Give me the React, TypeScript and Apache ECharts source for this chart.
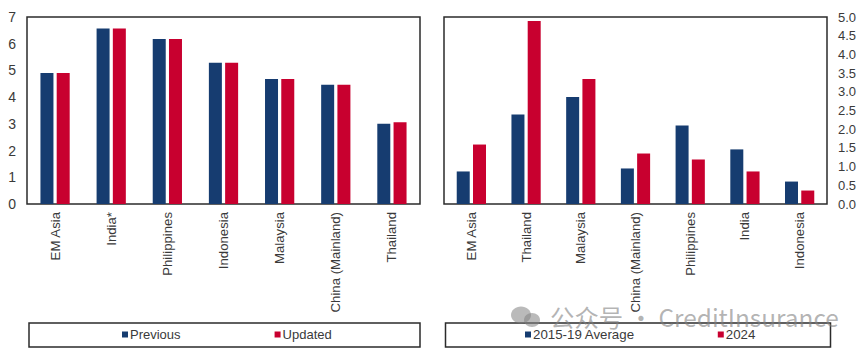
import React, { useEffect, useRef } from "react";
import * as echarts from "echarts";

const leftCategories = ["EM Asia", "India*", "Philippines", "Indonesia", "Malaysia", "China (Mainland)", "Thailand"];
const previous = [4.9, 6.57, 6.18, 5.29, 4.68, 4.46, 3.0];
const updated = [4.9, 6.57, 6.18, 5.29, 4.68, 4.46, 3.06];

const rightCategories = ["EM Asia", "Thailand", "Malaysia", "China (Mainland)", "Philippines", "India", "Indonesia"];
const average = [0.87, 2.39, 2.86, 0.95, 2.1, 1.46, 0.6];
const y2024 = [1.59, 4.89, 3.34, 1.35, 1.19, 0.87, 0.36];

const NAVY = "#163c70";
const RED = "#c8002f";
const INK = "#3a3a3a";
const FONT = "'Liberation Sans', Arial, sans-serif";

const catAxis = (data: string[], gridIndex: number) => ({
  type: "category" as const,
  gridIndex,
  data,
  axisTick: { show: false },
  axisLine: { show: false },
  axisLabel: {
    rotate: 90,
    interval: 0,
    margin: 8,
    color: INK,
    fontSize: 13.2,
    fontFamily: FONT,
  },
});

const bar = (name: string, data: number[], color: string, i: number) => ({
  type: "bar" as const,
  name,
  data,
  xAxisIndex: i,
  yAxisIndex: i,
  barWidth: 13,
  barGap: "25%",
  itemStyle: { color },
});

export default function App() {
  const ref = useRef<HTMLDivElement>(null);
  useEffect(() => {
    const chart = echarts.init(ref.current!, null, { renderer: "svg" });
    chart.setOption({
      animation: false,
      backgroundColor: "#fff",
      grid: [
        { left: 27, top: 17, width: 393, height: 187, show: true, borderColor: "#2b2b2b", borderWidth: 1.5, backgroundColor: "transparent" },
        { left: 444, top: 17, width: 383, height: 187, show: true, borderColor: "#2b2b2b", borderWidth: 1.5, backgroundColor: "transparent" },
      ],
      xAxis: [catAxis(leftCategories, 0), catAxis(rightCategories, 1)],
      yAxis: [
        {
          type: "value", gridIndex: 0, min: 0, max: 7, interval: 1,
          splitLine: { show: false }, axisLine: { show: false }, axisTick: { show: false },
          axisLabel: { color: INK, fontSize: 14, fontFamily: FONT, margin: 11 },
        },
        {
          type: "value", gridIndex: 1, min: 0, max: 5, interval: 0.5, position: "right",
          splitLine: { show: false }, axisLine: { show: false }, axisTick: { show: false },
          axisLabel: { color: INK, fontSize: 13, fontFamily: FONT, margin: 11, formatter: (v: number) => v.toFixed(1) },
        },
      ],
      legend: [
        {
          left: 117, top: 323, itemWidth: 6, itemHeight: 6, itemGap: 94, icon: "rect",
          data: ["Previous", "Updated"],
          selectedMode: false,
          textStyle: { color: INK, fontSize: 13, fontFamily: FONT, padding: [0, 0, 0, -3] },
        },
        {
          left: 520, top: 323, itemWidth: 6, itemHeight: 6, itemGap: 83, icon: "rect",
          data: ["2015-19 Average", "2024"],
          selectedMode: false,
          textStyle: { color: INK, fontSize: 13.3, fontFamily: FONT, padding: [0, 0, 0, -3] },
        },
      ],
      series: [
        bar("Previous", previous, NAVY, 0),
        bar("Updated", updated, RED, 0),
        bar("2015-19 Average", average, NAVY, 1),
        bar("2024", y2024, RED, 1),
      ],
      graphic: [
        { type: "rect", shape: { x: 29, y: 323, width: 391, height: 24 }, style: { fill: "none", stroke: "#2b2b2b", lineWidth: 1.5 } },
        { type: "rect", shape: { x: 445.5, y: 323, width: 385, height: 24 }, style: { fill: "none", stroke: "#2b2b2b", lineWidth: 1.5 } },
        { type: "ellipse", shape: { cx: 521, cy: 315, rx: 10, ry: 8.5 }, style: { fill: "rgba(130,130,130,0.55)" }, z: 20 },
        { type: "ellipse", shape: { cx: 532, cy: 320, rx: 8, ry: 7 }, style: { fill: "rgba(130,130,130,0.55)" }, z: 20 },
        {
          type: "text", x: 550, y: 304, z: 20,
          style: {
            text: "公众号 · CreditInsurance",
            fill: "rgba(130,130,130,0.6)",
            font: "24.4px 'Noto Sans CJK SC', 'Noto Sans', sans-serif",
          },
        },
      ],
    });
    return () => chart.dispose();
  }, []);
  return <div ref={ref} style={{ position: "fixed", left: 0, top: 0, width: 865, height: 354 }} />;
}
